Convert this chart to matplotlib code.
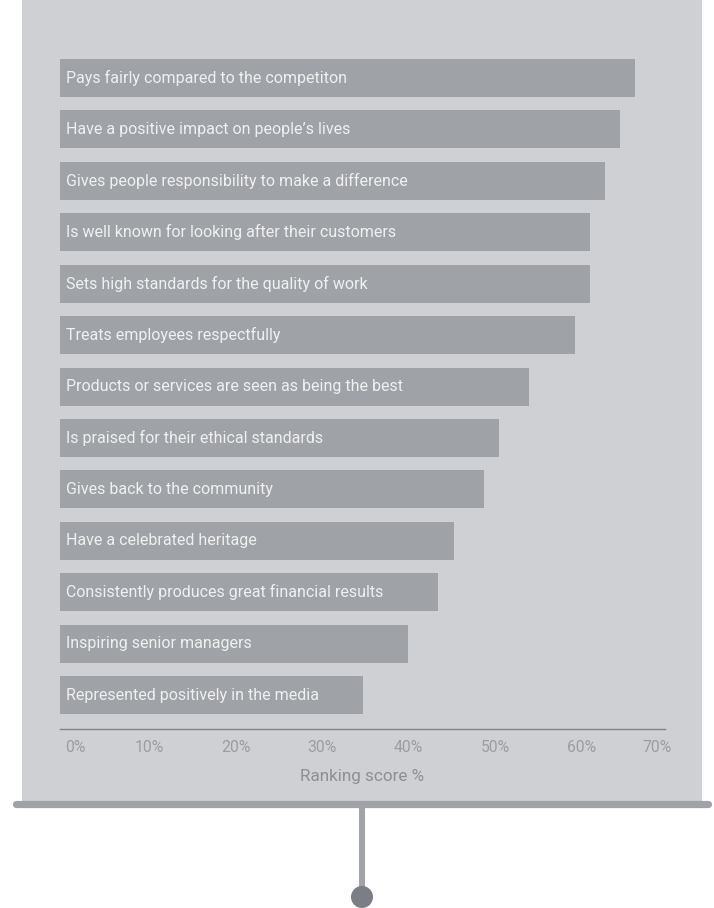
import matplotlib.pyplot as plt
from matplotlib.patches import Rectangle, Ellipse
from matplotlib.lines import Line2D
import matplotlib.transforms as mtransforms

# ranking data, top to bottom
labels = [
    "Pays fairly compared to the competiton",
    "Have a positive impact on people\u2019s lives",
    "Gives people responsibility to make a difference",
    "Is well known for looking after their customers",
    "Sets high standards for the quality of work",
    "Treats employees respectfully",
    "Products or services are seen as being the best",
    "Is praised for their ethical standards",
    "Gives back to the community",
    "Have a celebrated heritage",
    "Consistently produces great financial results",
    "Inspiring senior managers",
    "Represented positively in the media",
]
scores = [66.5, 64.8, 63.1, 61.3, 61.3, 59.6, 54.3, 50.8, 49.1, 45.6, 43.7, 40.3, 35.1]
ticks = [0, 10, 20, 30, 40, 50, 60, 70]
tick_labels = ["0%", "10%", "20%", "30%", "40%", "50%", "60%", "70%"]

W, H = 714, 908
font = ["Roboto", "DejaVu Sans"]
panel = "#cfd0d4"
bar_col = "#9fa2a7"

fig = plt.figure(figsize=(W / 100, H / 100), dpi=100)
fig.patch.set_facecolor("white")

# screen panel
fig.patches.append(Rectangle((22 / W, 1 - 803 / H), 680 / W, 803 / H,
                             transform=fig.transFigure, facecolor=panel,
                             edgecolor="none", zorder=-5))
# stand pole
fig.patches.append(Rectangle((359 / W, 1 - 895 / H), 6 / W, 90 / H,
                             transform=fig.transFigure, facecolor="#a0a3a7",
                             edgecolor="none", zorder=-4))
# bottom rail
fig.lines.append(Line2D([16 / W, 708 / W], [1 - 803.5 / H, 1 - 803.5 / H],
                        transform=fig.transFigure, color="#9fa2a6",
                        linewidth=5.2, solid_capstyle="round", zorder=-3))
fig.patches.append(Ellipse((362 / W, 1 - 897 / H), 22 / W, 22 / H,
                           transform=fig.transFigure, facecolor="#7b7e85",
                           edgecolor="none", zorder=-2))

ax = fig.add_axes([60 / W, 1 - 729 / H, 605 / W, 677 / H])
ax.set_facecolor("none")
ax.set_zorder(1)

y = list(range(len(labels)))
ax.barh(y, scores, height=0.74, color=bar_col, left=0)
for i, lab in enumerate(labels):
    ax.annotate(lab, (0, i), xytext=(4.5, 0), textcoords="offset points",
                ha="left", va="center", color="#f0f0f1", fontsize=11.5,
                family=font)

ax.set_xlim(0, 70)
ax.set_ylim(12.66, -0.506)
ax.set_yticks([])
ax.set_xticks(ticks)
ax.set_xticklabels(tick_labels, family=font, fontsize=11.3, color="#9a9da2")
ax.tick_params(axis="x", length=0, pad=8)
tl = ax.get_xticklabels()
for t in tl[1:-1]:
    t.set_transform(t.get_transform() + mtransforms.ScaledTranslation(0.03, 0, fig.dpi_scale_trans))
tl[0].set_ha("left")
tl[0].set_transform(tl[0].get_transform() + mtransforms.ScaledTranslation(0.05, 0, fig.dpi_scale_trans))
tl[-1].set_ha("right")
tl[-1].set_transform(tl[-1].get_transform() + mtransforms.ScaledTranslation(0.07, 0, fig.dpi_scale_trans))
for s in ["top", "right", "left"]:
    ax.spines[s].set_visible(False)
ax.spines["bottom"].set_color("#808387")
ax.spines["bottom"].set_linewidth(1)
ax.set_xlabel("Ranking score %", family=font, fontsize=12.3, color="#8c8f93",
              labelpad=10)

fig.savefig("out.png", dpi=100, facecolor="white")
